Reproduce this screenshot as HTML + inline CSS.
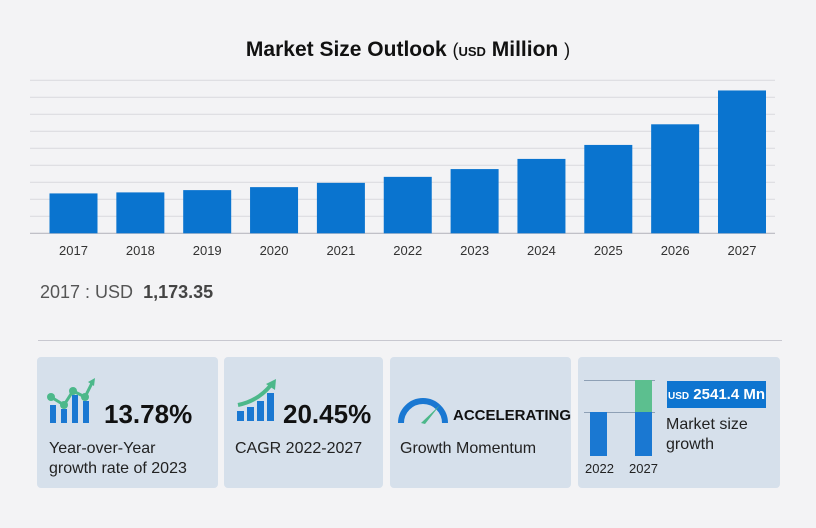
<!DOCTYPE html>
<html><head><meta charset="utf-8"><style>
body{margin:0;width:816px;height:528px;background:#f3f3f5;font-family:"Liberation Sans",sans-serif;position:relative;overflow:hidden}
.abs{position:absolute}
.card{position:absolute;background:#d6e0eb;border-radius:4px;top:357px;height:131px}
.t{position:absolute;color:#222;font-size:16px;line-height:20px;white-space:nowrap}
.big{position:absolute;font-weight:bold;font-size:26px;color:#111;white-space:nowrap}
</style></head><body>
<div class="abs" style="left:0;width:816px;top:38px;text-align:center;font-size:21px;font-weight:bold;color:#111">Market Size Outlook <span style="font-weight:normal;font-size:18px">(</span><span style="font-size:13px">USD</span> Million <span style="font-weight:normal;font-size:18px">)</span></div>
<svg class="abs" style="left:0;top:0" width="816" height="270">
<g id="grid"></g><g id="bars"></g><g id="labels"></g>
</svg>
<div class="abs" style="left:40px;top:282px;font-size:18px;color:#555">2017 : USD &nbsp;<b style="color:#444">1,173.35</b></div>
<div class="abs" style="left:38px;top:340px;width:744px;height:1px;background:#c8c8d0"></div>

<div class="card" style="left:37px;width:181px">
<svg class="abs" style="left:10px;top:20px" width="50" height="48">
<rect x="3" y="28" width="6" height="18" fill="#1a78d2"/><rect x="14" y="32" width="6" height="14" fill="#1a78d2"/><rect x="25" y="18" width="6" height="28" fill="#1a78d2"/><rect x="36" y="24" width="6" height="22" fill="#1a78d2"/>
<polyline points="4,20 17,28 26,14 38,20 46,4" fill="none" stroke="#4cb88a" stroke-width="3"/>
<circle cx="4" cy="20" r="4" fill="#4cb88a"/><circle cx="17" cy="28" r="4" fill="#4cb88a"/><circle cx="26" cy="14" r="4" fill="#4cb88a"/><circle cx="38" cy="20" r="4" fill="#4cb88a"/><path d="M41,5 L48,1 L47,9 Z" fill="#4cb88a"/></svg>
<div class="big" style="left:67px;top:42px">13.78%</div>
<div class="t" style="left:12px;top:82px">Year-over-Year<br>growth rate of 2023</div>
</div>
<div class="card" style="left:224px;width:159px">
<svg class="abs" style="left:12px;top:22px" width="42" height="44">
<rect x="1" y="32" width="7" height="10" fill="#1a78d2"/><rect x="11" y="28" width="7" height="14" fill="#1a78d2"/><rect x="21" y="22" width="7" height="20" fill="#1a78d2"/><rect x="31" y="14" width="7" height="28" fill="#1a78d2"/>
<path d="M2,26 Q22,22 35,6" fill="none" stroke="#4cb88a" stroke-width="4"/><path d="M30,5 L40,0 L39,11 Z" fill="#4cb88a"/></svg>
<div class="big" style="left:59px;top:42px">20.45%</div>
<div class="t" style="left:11px;top:82px">CAGR 2022-2027</div>
</div>
<div class="card" style="left:390px;width:181px">
<svg class="abs" style="left:6px;top:36px" width="54" height="32">
<path d="M5,30 A22,22 0 0 1 49,30" fill="none" stroke="#1a78d2" stroke-width="6"/>
<path d="M25,30 L44,12 L29,31 Z" fill="#4cb88a"/></svg>
<div class="abs" style="left:63px;top:50px;font-weight:bold;font-size:15px;color:#111">ACCELERATING</div>
<div class="t" style="left:10px;top:82px">Growth Momentum</div>
</div>
<div class="card" style="left:578px;width:202px">
<div class="abs" style="left:6px;top:23px;width:71px;height:1px;background:#8ea0b5"></div>
<div class="abs" style="left:6px;top:55px;width:71px;height:1px;background:#8ea0b5"></div>
<div class="abs" style="left:12px;top:55px;width:17px;height:44px;background:#1a78d2"></div>
<div class="abs" style="left:57px;top:55px;width:17px;height:44px;background:#1a78d2"></div>
<div class="abs" style="left:57px;top:23px;width:17px;height:32px;background:#5cbf8f"></div>
<div class="abs" style="left:7px;top:104px;font-size:13px;color:#222">2022</div>
<div class="abs" style="left:51px;top:104px;font-size:13px;color:#222">2027</div>
<div class="abs" style="left:89px;top:24px;width:99px;height:27px;background:#0e75d0;color:#fff;font-weight:bold;font-size:15px;line-height:27px;text-align:center;white-space:nowrap"><span style="font-size:10px">USD</span> 2541.4 Mn</div>
<div class="t" style="left:88px;top:58px">Market size<br>growth</div>
</div>
<script>
const years=["2017","2018","2019","2020","2021","2022","2023","2024","2025","2026","2027"];
const values=[1173,1203,1270,1358,1484,1660,1889,2188,2599,3206,4201];
const yTicks=[0,500,1000,1500,2000,2500,3000,3500,4000,4500];
const NS="http://www.w3.org/2000/svg";
const x0=49.5,step=66.85,bw=48,base=233.3,top0=80.3,yMax=4500;
const y=v=>base-(v/yMax)*(base-top0);
const g=document.getElementById('grid'),b=document.getElementById('bars'),l=document.getElementById('labels');
yTicks.forEach(t=>{const e=document.createElementNS(NS,'line');


e.setAttribute('x1',30);e.setAttribute('x2',775);e.setAttribute('y1',y(t));e.setAttribute('y2',y(t));
e.setAttribute('stroke',t===0?'#b8b8c0':'#dcdce0');e.setAttribute('stroke-width',1.2);g.appendChild(e);});
values.forEach((v,i)=>{const r=document.createElementNS(NS,'rect');


r.setAttribute('x',x0+i*step);r.setAttribute('width',bw);r.setAttribute('y',y(v));r.setAttribute('height',base-y(v));r.setAttribute('fill','#0a74cf');b.appendChild(r);
const t=document.createElementNS(NS,'text');


t.setAttribute('x',x0+i*step+bw/2);t.setAttribute('y',255);t.setAttribute('text-anchor','middle');t.setAttribute('font-size','13');t.setAttribute('fill','#333');t.setAttribute('font-family','Liberation Sans, sans-serif');t.textContent=years[i];l.appendChild(t);});
</script>
</body></html>
